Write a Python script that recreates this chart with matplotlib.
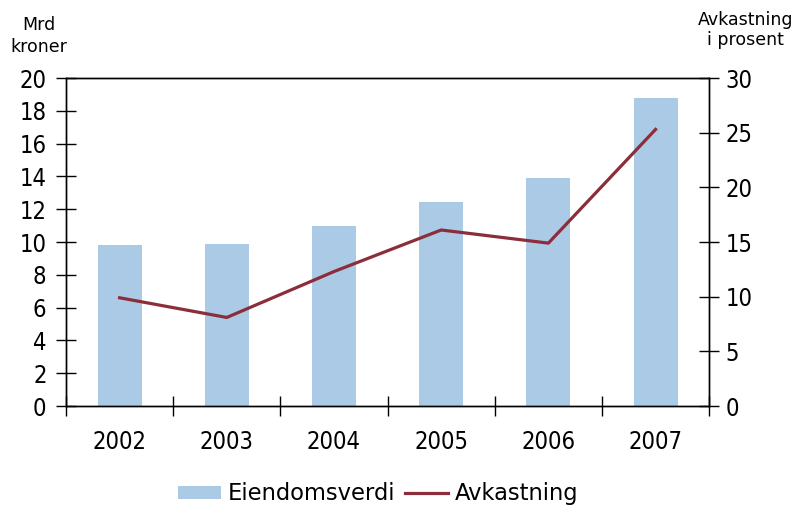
import matplotlib
matplotlib.use("Agg")
import matplotlib.pyplot as plt
import numpy as np
from matplotlib.lines import Line2D
from matplotlib.patches import Patch
from matplotlib import font_manager

years = ["2002", "2003", "2004", "2005", "2006", "2007"]
eiendomsverdi = [9.8, 9.85, 10.95, 12.45, 13.9, 18.8]
avkastning = [9.9, 8.1, 12.3, 16.1, 14.9, 25.3]
left_ticks = [0, 2, 4, 6, 8, 10, 12, 14, 16, 18, 20]
right_ticks = [0, 5, 10, 15, 20, 25, 30]

fl = font_manager.fontManager.ttflist
names = {f.name for f in fl}
if "Liberation Sans Narrow" in names:
    tick_font = dict(family="Liberation Sans Narrow")
elif any(f.name == "DejaVu Sans" and "ondensed" in f.fname for f in fl):
    tick_font = dict(family="DejaVu Sans", stretch="condensed")
else:
    tick_font = dict(family="Liberation Sans")

bar_color = "#abcae6"
line_color = "#8b2d3a"

fig = plt.figure(figsize=(7.98, 5.05), dpi=100)
ax = fig.add_axes([0.0827, 0.196, 0.806, 0.6495])
x = np.arange(len(years))
ax.bar(x, eiendomsverdi, width=0.41, color=bar_color, zorder=2)
ax.set_xlim(-0.5, len(years) - 0.5)
ax.set_ylim(0, 20)
ax.set_yticks(left_ticks)
ax.set_xticks(x)
ax.set_xticklabels(years)
ax.set_xticks(np.arange(len(years) + 1) - 0.5, minor=True)
ax.tick_params(axis="x", which="major", length=0, pad=17, labelsize=17)
ax.tick_params(axis="x", which="minor", direction="inout", length=14, width=1)
ax.tick_params(axis="y", direction="inout", length=14, width=1, labelsize=17, pad=7)
for lab in ax.get_xticklabels() + ax.get_yticklabels():
    lab.set_fontfamily(tick_font["family"])
    if "stretch" in tick_font:
        lab.set_fontstretch(tick_font["stretch"])

ax2 = ax.twinx()
ax2.plot(x, avkastning, color=line_color, lw=2.3, zorder=3)
ax2.set_ylim(0, 30)
ax2.set_yticks(right_ticks)
ax2.tick_params(axis="y", direction="inout", length=14, width=1, labelsize=17, pad=5)
for lab in ax2.get_yticklabels():
    lab.set_fontfamily(tick_font["family"])
    if "stretch" in tick_font:
        lab.set_fontstretch(tick_font["stretch"])

for a in (ax, ax2):
    for s in a.spines.values():
        s.set_linewidth(1)
        s.set_color("black")

fig.text(0.049, 0.929, "Mrd\nkroner", ha="center", va="center", fontsize=12.5,
         linespacing=1.3, family="DejaVu Sans")
fig.text(0.934, 0.94, "Avkastning\ni prosent", ha="center", va="center", fontsize=12.5,
         linespacing=1.15, family="DejaVu Sans")

handles = [Patch(facecolor=bar_color, edgecolor="none"),
           Line2D([0], [0], color=line_color, lw=2.3)]
fig.legend(handles, ["Eiendomsverdi", "Avkastning"], loc="center",
           bbox_to_anchor=(0.474, 0.022), ncol=2, frameon=False, fontsize=16.3,
           handlelength=1.9, handleheight=0.55, columnspacing=0.45, handletextpad=0.3)

fig.savefig("out.png", dpi=100)
